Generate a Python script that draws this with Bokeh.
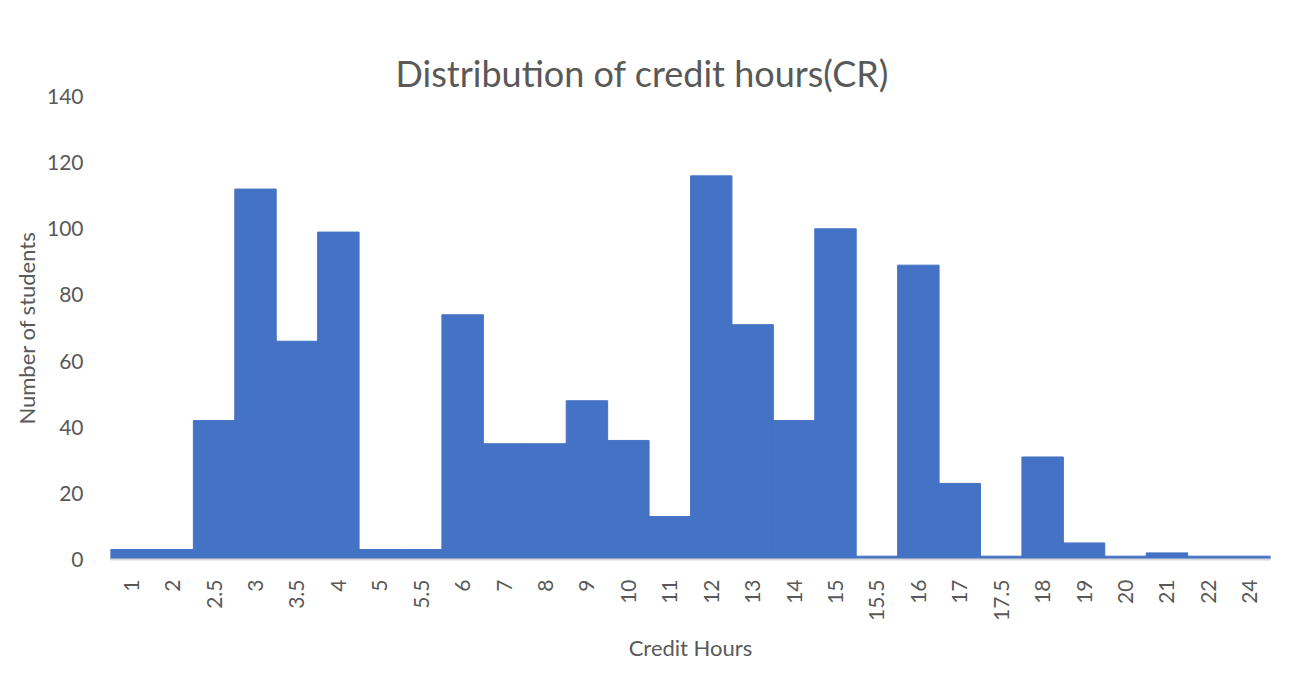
from bokeh.plotting import figure
from bokeh.embed import file_html
from bokeh.resources import INLINE
from bokeh.models import ColumnDataSource, FactorRange, Range1d
import math

credit_hours = ["1", "2", "2.5", "3", "3.5", "4", "5", "5.5", "6", "7", "8", "9", "10", "11",
                "12", "13", "14", "15", "15.5", "16", "17", "17.5", "18", "19", "20", "21", "22", "24"]
students = [3, 3, 42, 112, 66, 99, 3, 3, 74, 35, 35, 48, 36, 13,
            116, 71, 42, 100, 1, 89, 23, 1, 31, 5, 1, 2, 1, 1]
y_ticks = [0, 20, 40, 60, 80, 100, 120, 140]

FONT = "Lato"
GREY = "#595959"
BAR = "#4472C4"

src = ColumnDataSource(dict(x=credit_hours, y=students))

p = figure(width=1287, height=667, x_range=FactorRange(*credit_hours, range_padding=0),
           y_range=Range1d(0, 140), output_backend="svg", toolbar_location=None,
           title="Distribution of credit hours(CR)",
           min_border_left=110, min_border_right=17, min_border_top=96, min_border_bottom=108)

p.vbar(x="x", top="y", width=1.0, source=src, fill_color=BAR, line_color=BAR, line_width=1)

p.outline_line_color = None
p.xgrid.grid_line_color = None
p.ygrid.grid_line_color = None

p.title.text_font = FONT
p.title.text_font_size = "36px"
p.title.text_font_style = "normal"
p.title.text_color = GREY
p.title.align = "left"
p.title.offset = 285
p.title.standoff = 4

p.yaxis.ticker = y_ticks
p.yaxis.axis_line_color = None
p.yaxis.major_tick_line_color = None
p.yaxis.minor_tick_line_color = None
p.yaxis.major_label_text_font = FONT
p.yaxis.major_label_text_font_size = "21px"
p.yaxis.major_label_text_color = GREY
p.yaxis.major_label_standoff = 21
p.yaxis.axis_label = "Number of students"
p.yaxis.axis_label_text_font = FONT
p.yaxis.axis_label_text_font_size = "22px"
p.yaxis.axis_label_text_font_style = "normal"
p.yaxis.axis_label_text_color = GREY
p.yaxis.axis_label_standoff = 4

p.xaxis.axis_line_color = "#D9D9D9"
p.xaxis.axis_line_width = 2
p.xaxis.major_tick_line_color = None
p.xaxis.minor_tick_line_color = None
p.xaxis.major_label_orientation = math.pi / 2
p.xaxis.major_label_text_font = FONT
p.xaxis.major_label_text_font_size = "21px"
p.xaxis.major_label_text_color = GREY
p.xaxis.major_label_standoff = 14
p.xaxis.axis_label = "Credit Hours"
p.xaxis.axis_label_text_font = FONT
p.xaxis.axis_label_text_font_size = "22px"
p.xaxis.axis_label_text_font_style = "normal"
p.xaxis.axis_label_text_color = GREY
p.xaxis.axis_label_standoff = 10

open("out.html", "w").write(file_html(p, INLINE))
